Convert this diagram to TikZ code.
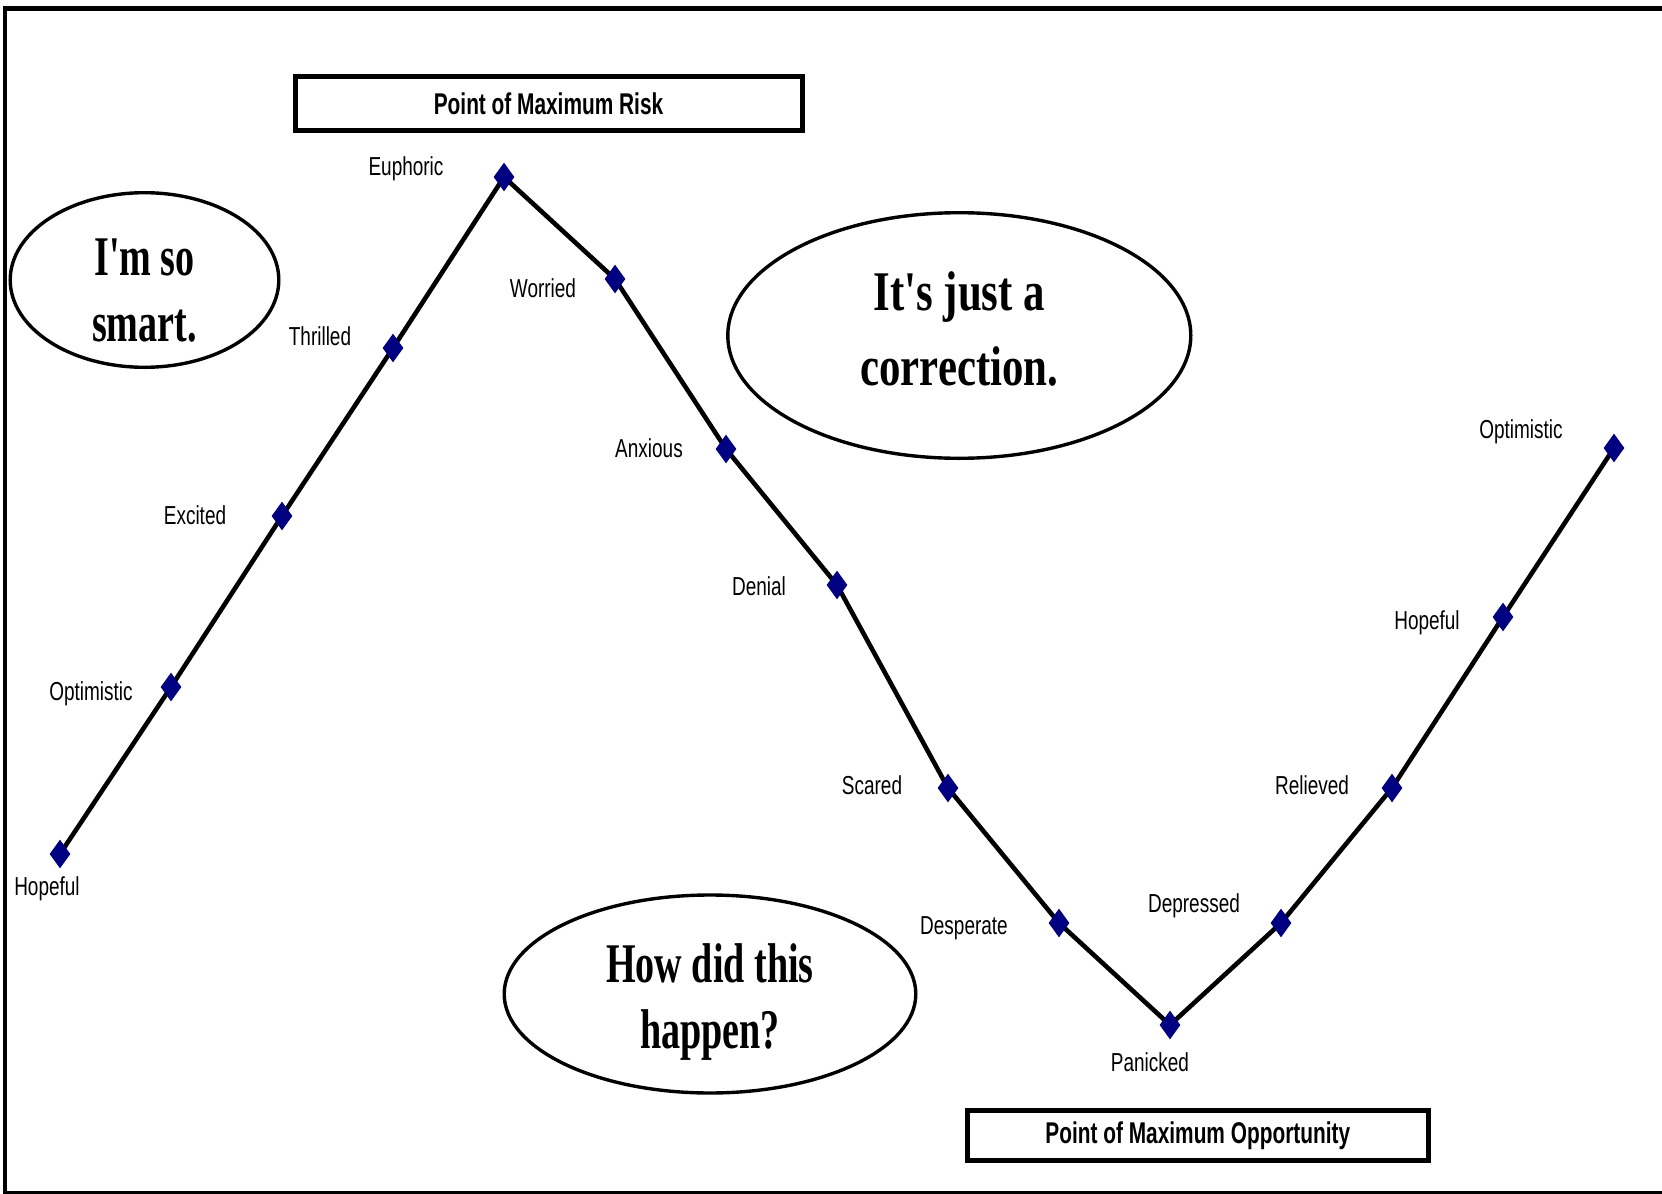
\documentclass[tikz,border=0pt]{standalone}
\usepackage{fontspec}
\usepackage{tikz}
\usepackage{xcolor}
\usetikzlibrary{shapes.geometric, backgrounds}
\setmainfont{Liberation Sans}
\newfontfamily\moodfont[FakeStretch=0.73]{Liberation Sans}
\newfontfamily\bannerfont[FakeStretch=0.695]{Liberation Sans}
\newfontfamily\bubblefont[FakeStretch=0.68]{Liberation Serif}
\newfontfamily\bubblewidefont[FakeStretch=0.765]{Liberation Serif}
\definecolor{chartnavy}{HTML}{000080}

\begin{document}
\begin{tikzpicture}[x=0.5pt, y=-0.5pt,
    mood/.style={diamond, fill=chartnavy, inner sep=0pt, minimum width=10.5pt, minimum height=14.5pt},
    moodlabel/.style={font=\moodfont\fontsize{13}{15}\selectfont, inner sep=0pt},
    banner/.style={draw, line width=2.5pt, inner sep=0pt, font=\bannerfont\bfseries\fontsize{15}{17}\selectfont},
    bubble/.style={ellipse, draw, line width=1.7pt, inner sep=0pt},
    bubbletext/.style={align=center, inner sep=0pt}]
    \useasboundingbox (0,0) rectangle (1662,1194);
    \clip (0,0) rectangle (1662,1194);
    \draw[line width=2.3pt] (5,8.7) rectangle (1700,1193);

    % the cycle
    \node[mood] (1) at (60,854) {};
    \node[mood] (2) at (171,687) {};
    \node[mood] (3) at (282,516) {};
    \node[mood] (4) at (393,348) {};
    \node[mood] (5) at (504,177) {};
    \node[mood] (6) at (615,279) {};
    \node[mood] (7) at (726,449) {};
    \node[mood] (8) at (837,585) {};
    \node[mood] (9) at (948,788) {};
    \node[mood] (10) at (1059,923) {};
    \node[mood] (11) at (1170,1025) {};
    \node[mood] (12) at (1281,923) {};
    \node[mood] (13) at (1392,788) {};
    \node[mood] (14) at (1503,617) {};
    \node[mood] (15) at (1614,448) {};

    \node[moodlabel] (l1) at (47,889) {Hopeful};
    \node[moodlabel] (l2) at (91,694) {Optimistic};
    \node[moodlabel] (l3) at (195,515) {Excited};
    \node[moodlabel] (l4) at (320,336) {Thrilled};
    \node[moodlabel] (l5) at (406,169) {Euphoric};
    \node[moodlabel] (l6) at (543,288) {Worried};
    \node[moodlabel] (l7) at (649,448) {Anxious};
    \node[moodlabel] (l8) at (759,586) {Denial};
    \node[moodlabel] (l9) at (872,785) {Scared};
    \node[moodlabel] (l10) at (964,928) {Desperate};
    \node[moodlabel] (l11) at (1150,1062) {Panicked};
    \node[moodlabel] (l12) at (1194,906) {Depressed};
    \node[moodlabel] (l13) at (1312,785) {Relieved};
    \node[moodlabel] (l14) at (1427,623) {Hopeful};
    \node[moodlabel] (l15) at (1521,432) {Optimistic};

    \begin{scope}[on background layer]
      \draw[line width=2.3pt] (1.center) -- (2.center) -- (3.center) -- (4.center)
        -- (5.center) -- (6.center) -- (7.center) -- (8.center) -- (9.center)
        -- (10.center) -- (11.center) -- (12.center) -- (13.center)
        -- (14.center) -- (15.center);
    \end{scope}

    % boxes and bubbles
    \node[banner, minimum width=253.5pt, minimum height=27.3pt] (risk) at (548.5,103.4)
      {Point of Maximum Risk};
    \node[banner, minimum width=230.7pt, minimum height=25.3pt] (chance) at (1197.8,1135.3)
      {Point of Maximum Opportunity};

    \node[bubble, minimum width=134.3pt, minimum height=87.3pt,
      label={[bubbletext, yshift=-5.15pt, font=\bubblefont\bfseries\fontsize{28}{33}\selectfont]center:I'm so\\smart.}]
      (smart) at (144.5,280) {};
    \node[bubble, minimum width=231.5pt, minimum height=122.8pt,
      label={[bubbletext, yshift=3.2pt, font=\bubblewidefont\bfseries\fontsize{28}{37.8}\selectfont]center:It's just a\\correction.}]
      (correction) at (959.3,335.5) {};
    \node[bubble, minimum width=205.8pt, minimum height=99pt,
      label={[bubbletext, yshift=-4.2pt, font=\bubblefont\bfseries\fontsize{28}{33}\selectfont]center:How did this\\happen?}]
      (happen) at (710,994) {};
\end{tikzpicture}
\end{document}
